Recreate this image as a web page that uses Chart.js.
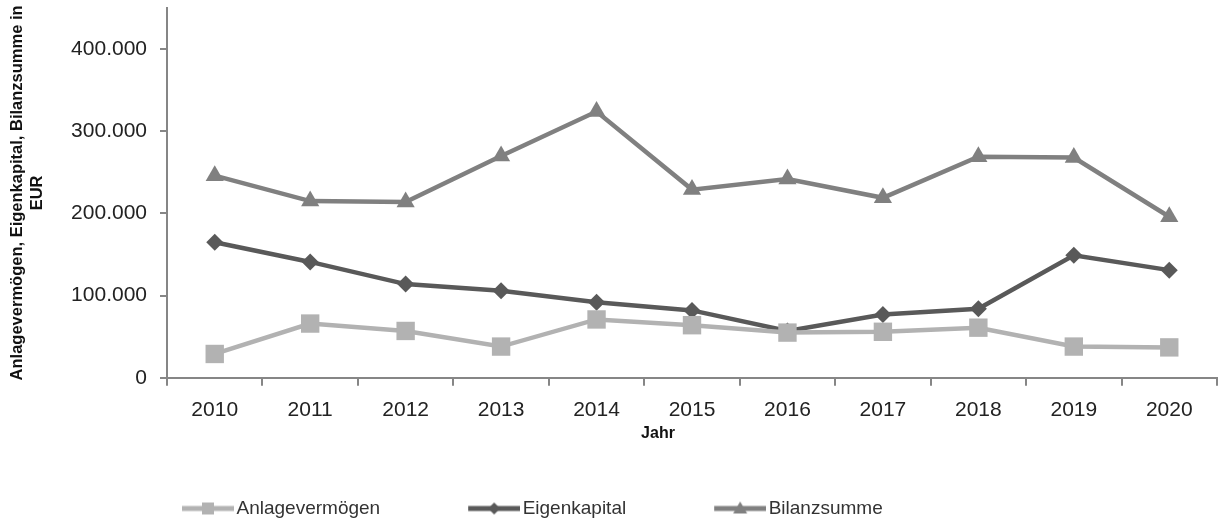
<!DOCTYPE html>
<html>
<head>
<meta charset="utf-8">
<script src="https://cdn.jsdelivr.net/npm/chart.js@4.4.1/dist/chart.umd.min.js"></script>
<style>
html,body{margin:0;padding:0;background:#fff;}
#wrap{width:1224px;height:520px;position:relative;}
</style>
</head>
<body>
<div id="wrap"><canvas id="c" width="1224" height="520"></canvas></div>
<script>
const years = ['2010','2011','2012','2013','2014','2015','2016','2017','2018','2019','2020'];
const anlagevermoegen = [29000, 66000, 57000, 38000, 71000, 64000, 55000, 56000, 61000, 38000, 37000];
const eigenkapital = [165000, 141000, 114000, 106000, 92000, 82000, 57000, 77000, 84000, 149000, 131000];
const bilanzsumme = [246000, 215000, 214000, 270000, 324000, 229000, 242000, 219000, 269000, 268000, 196000];
const yTicks = [0, 100000, 200000, 300000, 400000];
const seriesNames = ['Anlagevermögen', 'Eigenkapital', 'Bilanzsumme'];

const FONT = "'Liberation Sans', Arial, sans-serif";
const colors = ['#b2b2b2', '#595959', '#808080'];
const styles = ['rect', 'rectRot', 'triangle'];
const radii = [13, 8.5, 10.5];

const LEG_PAD = 2;          // legend padding
const ICON_W = 131;         // legend icon box width
const OVER = 7;             // icon overhang towards the text
const LINE_W = 52;

function fmt(v){ return String(v).replace(/\B(?=(\d{3})+(?!\d))/g, '.'); }

function legendIcon(color, style){
  const cv = document.createElement('canvas');
  const CW = ICON_W + 2 * OVER;
  cv.width = CW; cv.height = 16;
  const g = cv.getContext('2d');
  const x0 = CW - LINE_W, cx = x0 + LINE_W / 2;
  g.strokeStyle = color; g.lineWidth = 5;
  g.beginPath(); g.moveTo(x0, 8); g.lineTo(CW, 8); g.stroke();
  g.fillStyle = color;
  g.beginPath();
  if (style === 'rect') { g.rect(cx - 6, 2, 12, 12); }
  else if (style === 'rectRot') { g.moveTo(cx, 2); g.lineTo(cx + 6, 8); g.lineTo(cx, 14); g.lineTo(cx - 6, 8); g.closePath(); }
  else { g.moveTo(cx, 1); g.lineTo(cx + 7, 13); g.lineTo(cx - 7, 13); g.closePath(); }
  g.fill();
  return cv;
}

const placeBlocks = {
  id: 'placeBlocks',
  afterLayout(chart) {
    const lg = chart.legend;
    if (lg && lg.lineWidths && lg.lineWidths.length) {
      const target = 182 - (ICON_W + OVER - LINE_W);
      lg.right = 2 * target - lg.left - LEG_PAD + lg.lineWidths[0];
      lg.top += 8; lg.bottom += 8;
    }
    const tb = chart.titleBlock;
    if (tb) { tb.left = 2 * 658 - tb.right; }
  }
};

const dataArrays = [anlagevermoegen, eigenkapital, bilanzsumme];
const datasets = dataArrays.map((d, i) => ({
  label: seriesNames[i],
  data: d,
  borderColor: colors[i],
  backgroundColor: colors[i],
  pointBackgroundColor: colors[i],
  pointBorderColor: colors[i],
  pointStyle: styles[i],
  pointRadius: radii[i],
  pointBorderWidth: 0,
  borderWidth: 4.5,
  tension: 0,
  fill: false,
  clip: false
}));

new Chart(document.getElementById('c'), {
  type: 'line',
  data: { labels: years, datasets: datasets },
  plugins: [placeBlocks],
  options: {
    responsive: false,
    animation: false,
    layout: { autoPadding: false, padding: { left: 0, right: 7, top: 8, bottom: 0 } },
    plugins: {
      tooltip: { enabled: false },
      title: {
        display: true, text: 'Jahr', position: 'bottom', weight: 500,
        font: { family: FONT, size: 16, weight: 'bold', lineHeight: 1.2 },
        color: '#111', padding: { top: 3, bottom: 46 }
      },
      legend: {
        position: 'bottom',
        labels: {
          usePointStyle: true,
          pointStyleWidth: ICON_W,
          font: { family: FONT, size: 19 },
          color: '#333',
          padding: LEG_PAD,
          boxHeight: 16,
          generateLabels: (chart) => chart.data.datasets.map((ds, i) => ({
            text: ds.label,
            pointStyle: legendIcon(colors[i], styles[i]),
            fillStyle: colors[i],
            strokeStyle: colors[i],
            lineWidth: 0,
            datasetIndex: i,
            fontColor: '#333'
          }))
        }
      }
    },
    scales: {
      x: {
        offset: true,
        grid: { display: true, drawOnChartArea: false, offset: true, tickLength: 8, color: '#868686', lineWidth: 2 },
        border: { display: true, color: '#868686', width: 2 },
        ticks: { font: { family: FONT, size: 21 }, color: '#222', padding: 12, maxRotation: 0 },
        afterFit: (s) => { s.height = 43; s.paddingLeft = 0; s.paddingRight = 0; }
      },
      y: {
        min: 0,
        max: 450000,
        afterBuildTicks: (s) => { s.ticks = yTicks.map(v => ({ value: v })); },
        grid: { display: true, drawOnChartArea: false, tickLength: 7, color: '#868686', lineWidth: 2 },
        border: { display: true, color: '#868686', width: 2 },
        ticks: { font: { family: FONT, size: 21 }, color: '#222', padding: 13, callback: (v) => fmt(v) },
        title: { display: true, text: ['Anlagevermögen, Eigenkapital, Bilanzsumme in', 'EUR'], font: { family: FONT, size: 16.5, weight: 'bold', lineHeight: 1.17 }, color: '#111', padding: { top: 8, bottom: 0 } },
        afterFit: (s) => { s.width = 167; s.paddingTop = 0; s.paddingBottom = 0; }
      }
    }
  }
});
</script>
</body>
</html>
